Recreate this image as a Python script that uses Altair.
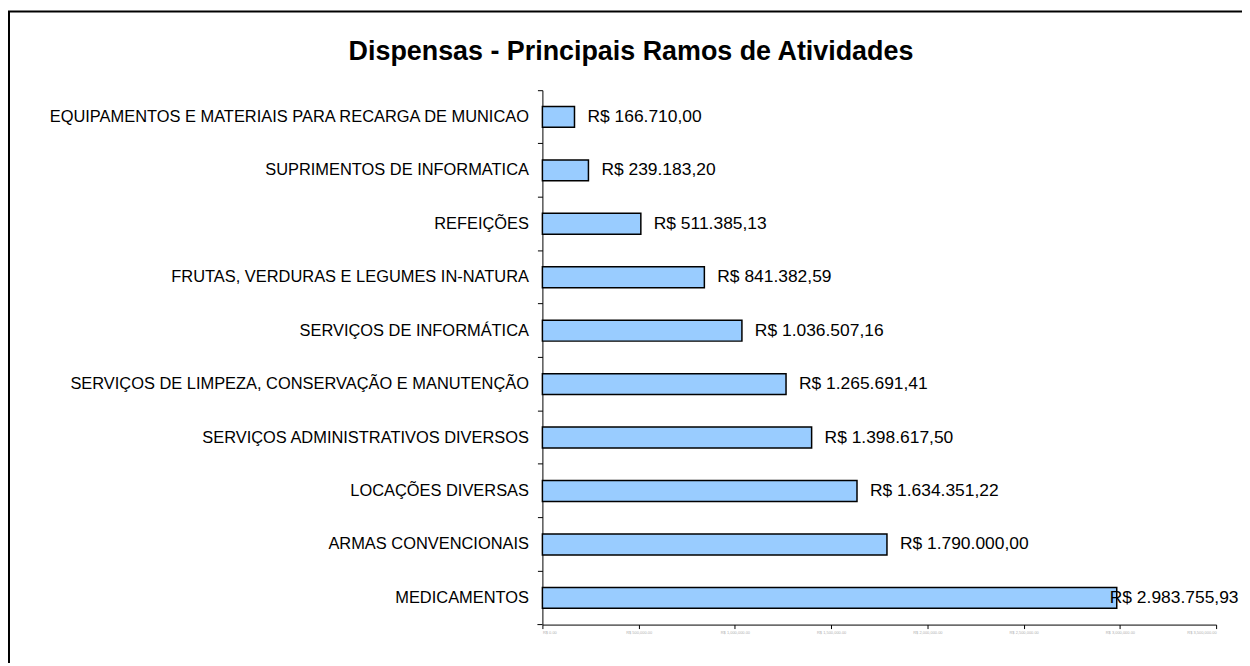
import altair as alt
import pandas as pd

FONT = "Liberation Sans"

title_text = "Dispensas - Principais Ramos de Atividades"

categories = [
    "EQUIPAMENTOS E MATERIAIS PARA RECARGA DE MUNICAO",
    "SUPRIMENTOS DE INFORMATICA",
    "REFEIÇÕES",
    "FRUTAS, VERDURAS E LEGUMES IN-NATURA",
    "SERVIÇOS DE INFORMÁTICA",
    "SERVIÇOS DE LIMPEZA, CONSERVAÇÃO E MANUTENÇÃO",
    "SERVIÇOS ADMINISTRATIVOS DIVERSOS",
    "LOCAÇÕES DIVERSAS",
    "ARMAS CONVENCIONAIS",
    "MEDICAMENTOS",
]
values = [
    166710.00,
    239183.20,
    511385.13,
    841382.59,
    1036507.16,
    1265691.41,
    1398617.50,
    1634351.22,
    1790000.00,
    2983755.93,
]
value_labels = [
    "R$ 166.710,00",
    "R$ 239.183,20",
    "R$ 511.385,13",
    "R$ 841.382,59",
    "R$ 1.036.507,16",
    "R$ 1.265.691,41",
    "R$ 1.398.617,50",
    "R$ 1.634.351,22",
    "R$ 1.790.000,00",
    "R$ 2.983.755,93",
]
x_ticks = [0, 500000, 1000000, 1500000, 2000000, 2500000, 3000000, 3500000]

df = pd.DataFrame({"cat": categories, "val": values, "lab": value_labels})
max_val = max(values)

W, H = 677, 537
PAD_L, PAD_T = 537, 81

y_enc = alt.Y(
    "cat:N",
    sort=categories,
    scale=alt.Scale(paddingInner=0, paddingOuter=0),
    axis=alt.Axis(
        title=None,
        bandPosition=0,
        labelFont=FONT,
        labelFontSize=16.5,
        labelColor="black",
        labelPadding=9,
        labelLimit=700,
        tickSize=5,
        tickColor="black",
        domainColor="black",
        grid=False,
    ),
)
x_enc = alt.X(
    "val:Q",
    scale=alt.Scale(domain=[0, 3500000], nice=False),
    axis=alt.Axis(
        title=None,
        values=x_ticks,
        grid=False,
        tickSize=4,
        tickColor="black",
        domainColor="black",
        labelFont=FONT,
        labelFontSize=4,
        labelColor="#b0b0b0",
        labelExpr="'R$ ' + format(datum.value, ',.2f')",
    ),
)

bars = alt.Chart(df).mark_bar(
    size=21, fill="#99CCFF", stroke="black", strokeWidth=1.5
).encode(x=x_enc, y=y_enc)

labels_main = alt.Chart(df).transform_filter(
    alt.datum.val < max_val
).mark_text(
    align="left", baseline="middle", dx=13, font=FONT, fontSize=17.5, color="black"
).encode(x=x_enc, y=y_enc, text="lab:N")

labels_max = alt.Chart(df).transform_filter(
    alt.datum.val >= max_val
).mark_text(
    align="left", baseline="middle", dx=-7, font=FONT, fontSize=17.5, color="black"
).encode(x=x_enc, y=y_enc, text="lab:N")

one = pd.DataFrame({"t": [title_text]})

title = alt.Chart(one).mark_text(
    font=FONT, fontSize=27, fontWeight="bold", align="center",
    baseline="alphabetic", color="black"
).encode(text="t:N", x=alt.value(634 - 8 - PAD_L), y=alt.value(-30))

bottom_tick = alt.Chart(one).mark_rule(color="black", strokeWidth=1).encode(
    x=alt.value(-5), x2=alt.value(0), y=alt.value(H)
)

frame = alt.Chart(one).mark_rect(
    fillOpacity=0, stroke="black", strokeWidth=2, clip=False
).encode(
    x=alt.value(1 - PAD_L), x2=alt.value(W + 120),
    y=alt.value(2 - PAD_T), y2=alt.value(H + 120),
)

chart = alt.layer(frame, bars, labels_main, labels_max, title, bottom_tick).properties(
    width=W,
    height=H,
    padding={"left": PAD_L, "top": PAD_T, "right": 26, "bottom": 37},
    autosize=alt.AutoSizeParams(type="none"),
    background="white",
).configure_view(stroke="transparent")

chart.save("out.html", embed_options={"renderer": "svg", "actions": False})
